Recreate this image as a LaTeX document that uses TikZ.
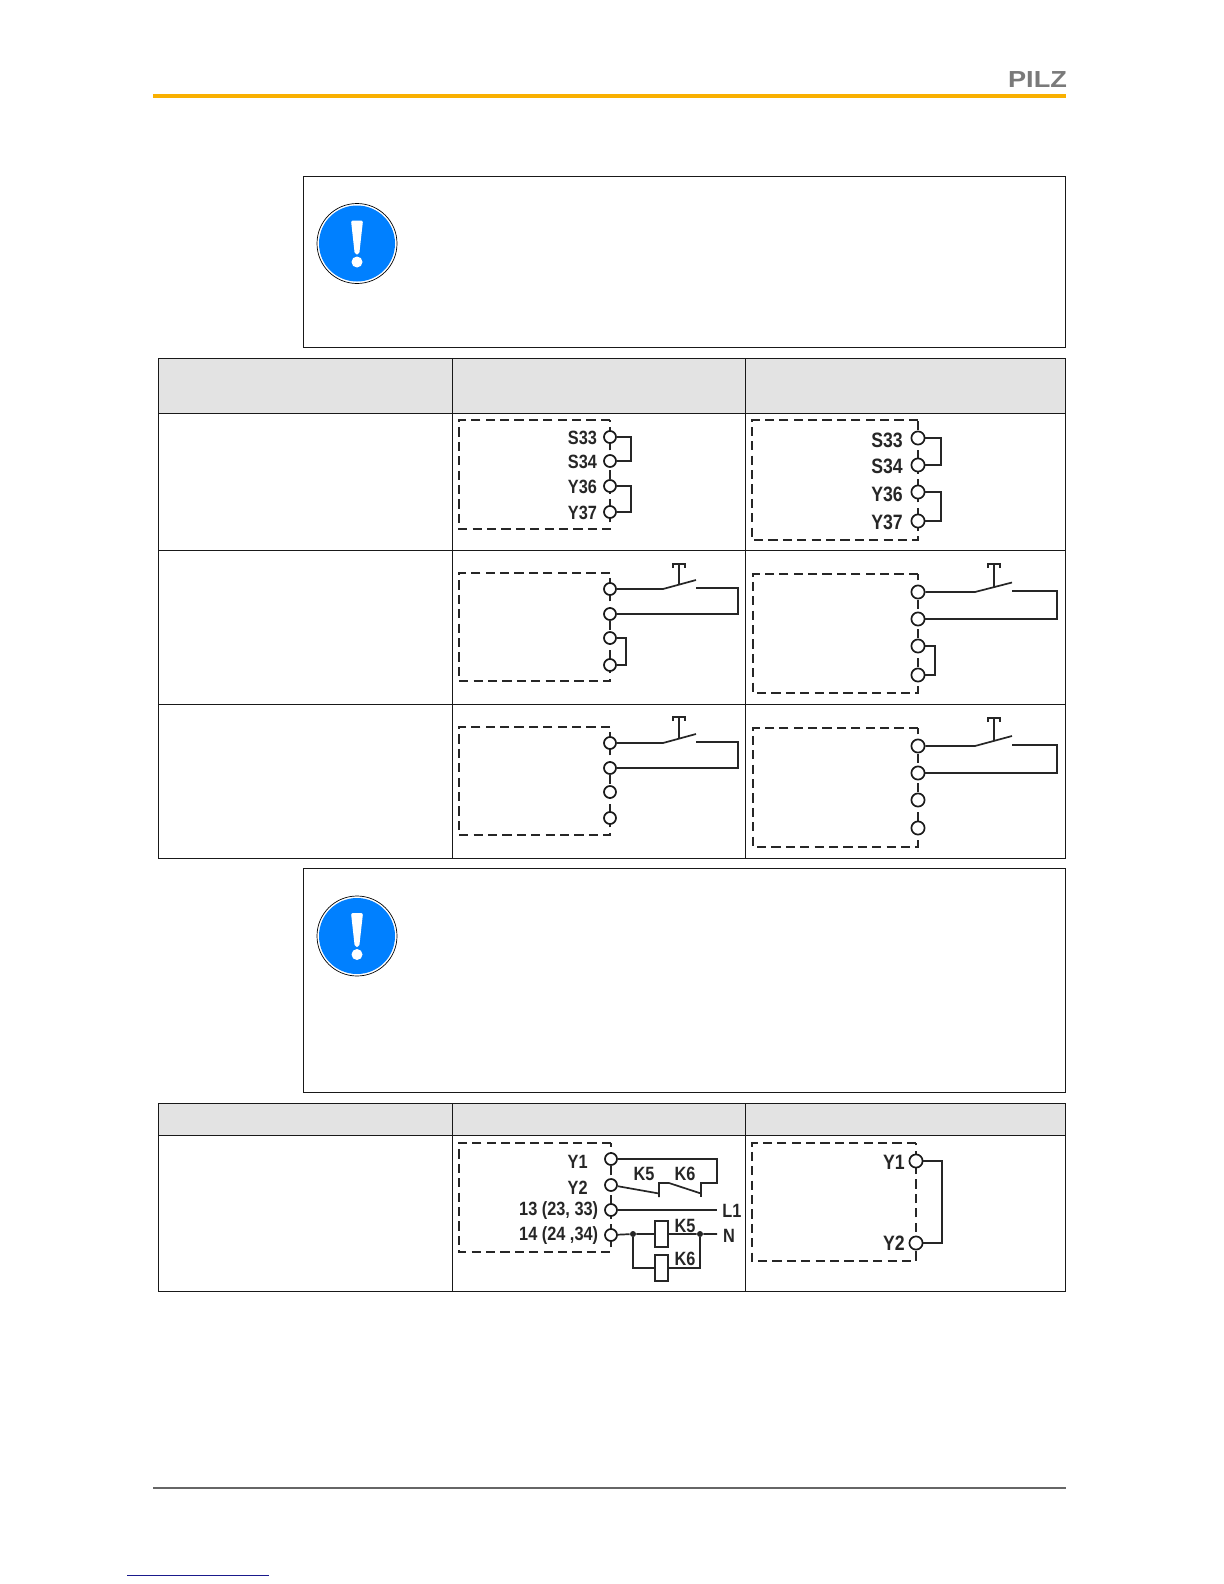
\documentclass[tikz,border=0pt]{standalone}
\usepackage{fontspec}
\setmainfont{Liberation Sans}
\newfontfamily\labfont[FakeStretch=0.85,UprightFont=* Bold]{Liberation Sans}
\newfontfamily\logofont[FakeStretch=1.17]{Liberation Sans}
\definecolor{hdr}{HTML}{E3E3E3}
\definecolor{pilzbar}{HTML}{F9B000}
\definecolor{signblue}{HTML}{0080FF}
\definecolor{logogrey}{HTML}{7A7A7A}
\definecolor{footgrey}{HTML}{666666}
\definecolor{footblue}{HTML}{1A1A8C}
\tikzset{
  x=0.5pt,y=-0.5pt,
  frame/.style={draw=black!90,line width=0.6pt},
  grid/.style={draw=black!90,line width=0.6pt},
  headcell/.style={fill=hdr,draw=none},
  dbox/.style={draw=black!85,line width=0.85pt,dash pattern=on 4.6pt off 2.6pt},
  dboxthin/.style={draw=black!85,line width=0.8pt,dash pattern=on 4.6pt off 2.6pt},
  term/.style={circle,draw=black!90,fill=white,line width=0.85pt,minimum size=6pt,inner sep=0pt},
  termb/.style={term,minimum size=6.6pt},
  wire/.style={draw=black!85,line width=0.85pt},
  lab/.style={font=\labfont\fontsize{9.6}{9}\selectfont,inner sep=0pt,text=black!85},
  labb/.style={font=\labfont\fontsize{10.4}{9}\selectfont,inner sep=0pt,text=black!85},
  coil/.style={rectangle,draw=black!85,fill=white,line width=0.85pt,minimum width=6.7pt,minimum height=12.9pt,inner sep=0pt},
  dotj/.style={circle,fill=black!85,minimum size=3pt,inner sep=0pt},
}
\newcommand{\warnsign}[3]{% name, x, y
  \node[circle,draw=black,line width=0.35pt,fill=white,minimum size=40pt,inner sep=0pt] (#1o) at (#2,#3) {};
  \node[circle,fill=signblue,minimum size=38pt,inner sep=0pt] (#1b) at (#2,#3) {};
  \fill[white,rounded corners=1pt] (#2-6,#3-23) -- (#2+6,#3-23) -- (#2+2.2,#3+11) -- (#2-2.2,#3+11) -- cycle;
  \fill[white] (#2,#3+18.5) ellipse [x radius=5.5,y radius=5.5];
}
\newcommand{\pushswitch}[7]{% xsw, xstem, xend, yterm, ytip, ytop, tname (start)
  \coordinate (#7k) at (#1,#4);
  \coordinate (#7t) at (#3,#5);
  \coordinate (#7s) at (#2,{#4+(#5-#4)*(#2-#1)/(#3-#1)});
  \coordinate (#7h) at (#2,#6);
  \draw[wire] (#7) -- (#7k) -- (#7t);
  \draw[wire] (#7s) -- (#7h);
  \draw[wire] ($(#7h)+(-6,4)$) -- ($(#7h)+(-6,0)$) -- ($(#7h)+(6,0)$) -- ($(#7h)+(6,4)$);
}
\usetikzlibrary{calc}
\begin{document}
\begin{tikzpicture}
\useasboundingbox (0,0) rectangle (1224,1584);
% header
\node[font=\logofont\fontsize{11.6}{12}\selectfont\bfseries,text=logogrey,inner sep=0pt] (logo) at (1037.5,80) {PILZ};
\fill[pilzbar] (153,94) rectangle (1065.5,98);
% notes
\draw[frame] (303.5,176.5) rectangle (1065.5,347.5);
\warnsign{s1}{357}{243.5}
\draw[frame] (303.5,868.5) rectangle (1065.5,1092.5);
\warnsign{s2}{357}{936}
% table 1
\fill[headcell] (158.5,358.5) rectangle (1065.5,413.5);
\draw[grid] (158.5,358.5) rectangle (1065.5,858.5);
\draw[grid] (158.5,413.5) -- (1065.5,413.5);
\draw[grid] (158.5,550.5) -- (1065.5,550.5);
\draw[grid] (158.5,704.5) -- (1065.5,704.5);
\draw[grid] (452.5,358.5) -- (452.5,858.5);
\draw[grid] (745.5,358.5) -- (745.5,858.5);
% table 2
\fill[headcell] (158.5,1103.5) rectangle (1065.5,1135.5);
\draw[grid] (158.5,1103.5) rectangle (1065.5,1291.5);
\draw[grid] (158.5,1135.5) -- (1065.5,1135.5);
\draw[grid] (452.5,1103.5) -- (452.5,1291.5);
\draw[grid] (745.5,1103.5) -- (745.5,1291.5);

% panel A
\draw[dbox] (610,420) -- (459,420) -- (459,529) -- (610,529) -- cycle;
\node[term] (a1) at (610,437) {};
\node[term] (a2) at (610,461) {};
\node[term] (a3) at (610,486) {};
\node[term] (a4) at (610,512) {};
\coordinate (ja1) at (631,437); \coordinate (ja2) at (631,486);
\draw[wire] (a1) -- (ja1) |- (a2);
\draw[wire] (a3) -- (ja2) |- (a4);
\node[lab] (la1) at (582.5,438) {S33};
\node[lab] (la2) at (582.5,462) {S34};
\node[lab] (la3) at (582.5,487) {Y36};
\node[lab] (la4) at (582.5,512.5) {Y37};

% panel B
\draw[dbox] (918,420) -- (752,420) -- (752,540) -- (918,540) -- cycle;
\node[termb] (b1) at (918,438) {};
\node[termb] (b2) at (918,465) {};
\node[termb] (b3) at (918,492) {};
\node[termb] (b4) at (918,521) {};
\coordinate (jb1) at (941,438); \coordinate (jb2) at (941,492);
\draw[wire] (b1) -- (jb1) |- (b2);
\draw[wire] (b3) -- (jb2) |- (b4);
\node[labb] (lb1) at (887,440) {S33};
\node[labb] (lb2) at (887,466.5) {S34};
\node[labb] (lb3) at (887,494) {Y36};
\node[labb] (lb4) at (887,522) {Y37};

% panel C
\draw[dboxthin] (610,573) -- (459,573) -- (459,681) -- (610,681) -- cycle;
\node[term] (c1) at (610,589) {};
\node[term] (c2) at (610,614) {};
\node[term] (c3) at (610,638) {};
\node[term] (c4) at (610,665) {};
\pushswitch{663}{679}{696}{589}{580}{564}{c1}
\coordinate (cr1) at (696,588); \coordinate (cr2) at (738,588);
\draw[wire] (cr1) -- (cr2) |- (c2);
\coordinate (jc) at (626,638);
\draw[wire] (c3) -- (jc) |- (c4);

% panel D
\draw[dbox] (918,574) -- (753,574) -- (753,693) -- (918,693) -- cycle;
\node[termb] (d1) at (918,592) {};
\node[termb] (d2) at (918,619) {};
\node[termb] (d3) at (918,646) {};
\node[termb] (d4) at (918,675) {};
\pushswitch{975}{994}{1012}{592}{582.5}{564}{d1}
\coordinate (dr1) at (1012,591); \coordinate (dr2) at (1057,591);
\draw[wire] (dr1) -- (dr2) |- (d2);
\coordinate (jd) at (935,646);
\draw[wire] (d3) -- (jd) |- (d4);

% panel E
\draw[dboxthin] (610,727) -- (459,727) -- (459,835) -- (610,835) -- cycle;
\node[term] (e1) at (610,743) {};
\node[term] (e2) at (610,768) {};
\node[term] (e3) at (610,792) {};
\node[term] (e4) at (610,818) {};
\pushswitch{663}{679}{696}{743}{734}{717}{e1}
\coordinate (er1) at (696,742); \coordinate (er2) at (738,742);
\draw[wire] (er1) -- (er2) |- (e2);

% panel F
\draw[dbox] (918,728) -- (753,728) -- (753,847) -- (918,847) -- cycle;
\node[termb] (f1) at (918,746) {};
\node[termb] (f2) at (918,773) {};
\node[termb] (f3) at (918,800) {};
\node[termb] (f4) at (918,828) {};
\pushswitch{975}{994}{1012}{746}{736}{718}{f1}
\coordinate (fr1) at (1012,745); \coordinate (fr2) at (1057,745);
\draw[wire] (fr1) -- (fr2) |- (f2);

% panel G
\draw[dbox] (611,1143) -- (459,1143) -- (459,1252) -- (611,1252) -- cycle;
\node[term] (g1) at (611,1159) {};
\node[term] (g2) at (611,1185) {};
\node[term] (g3) at (611,1210) {};
\node[term] (g4) at (611,1235) {};
\node[lab,anchor=east] (lg1) at (588,1161.5) {Y1};
\node[lab,anchor=east] (lg2) at (588,1187.5) {Y2};
\node[lab,anchor=east] (lg3) at (598.5,1211) {13 (23, 33)};
\node[lab,anchor=east] (lg4) at (598.5,1236) {14 (24 ,34)};
\coordinate (y1r) at (717,1159); \coordinate (y1d) at (717,1183);
\coordinate (k6a) at (701,1183); \coordinate (k6b) at (701,1197);
\coordinate (k5a) at (659,1183); \coordinate (k5b) at (659,1197);
\coordinate (k6s) at (669,1183); \coordinate (k6e) at (701,1193.5);
\coordinate (k5e) at (659,1193.5);
\draw[wire] (g1) -- (y1r) -- (y1d) -- (k6a) -- (k6b);
\draw[wire] (g2) -- (k5e);
\draw[wire] (k5b) -- (k5a) -- (k6s) -- (k6e);
\node[lab] (k5l) at (644,1174) {K5};
\node[lab] (k6l) at (685,1174) {K6};
\coordinate (l1e) at (717,1210);
\draw[wire] (g3) -- (l1e);
\node[lab] (l1l) at (732,1211) {L1};
\coordinate (ne) at (717,1234);
\node[dotj] (j1) at (633,1234) {};
\node[dotj] (j2) at (700,1234) {};
\draw[wire] (g4) -- (j1) -- (j2) -- (ne);
\coordinate (br1) at (633,1268); \coordinate (br2) at (700,1268);
\draw[wire] (j1) -- (br1) -- (br2) -- (j2);
\node[coil] (co1) at (661.5,1234) {};
\node[coil] (co2) at (661.5,1268) {};
\node[lab] (k5m) at (685,1225.5) {K5};
\node[lab] (k6m) at (685,1258.5) {K6};
\node[lab] (nl) at (729,1236) {N};

% panel H
\draw[dbox] (916,1143) -- (752,1143) -- (752,1261) -- (916,1261) -- cycle;
\node[termb] (h1) at (916,1161) {};
\node[termb] (h2) at (916,1243) {};
\coordinate (jh) at (942,1161);
\draw[wire] (h1) -- (jh) |- (h2);
\node[labb] (lh1) at (894,1162) {Y1};
\node[labb] (lh2) at (894,1243) {Y2};

% footer
\draw[footgrey,line width=0.6pt] (153,1488) -- (1065.5,1488);
\draw[footblue,line width=0.5pt] (127,1575.5) -- (269,1575.5);
\end{tikzpicture}
\end{document}
